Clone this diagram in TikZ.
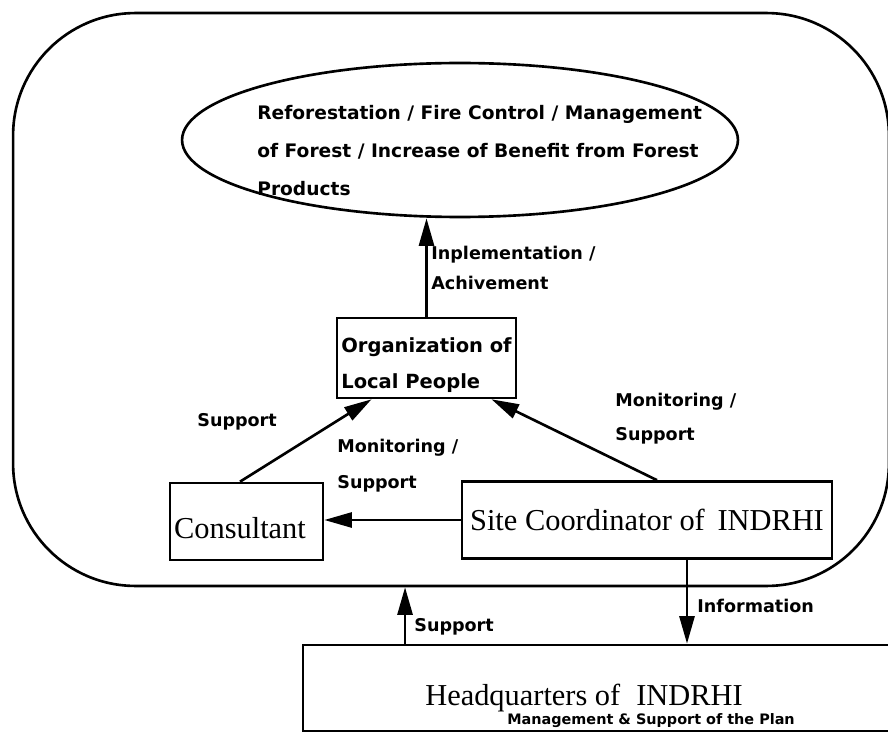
\documentclass[tikz,border=0pt]{standalone}
\usepackage{fontspec}
\setmainfont{Liberation Serif}
\newfontfamily\labfont{DejaVu Sans}
\usetikzlibrary{arrows.meta,shapes.geometric}
\tikzset{
  boxnode/.style={draw, line width=1.5pt, rectangle, inner sep=0pt},
  boxtext/.style={font=\fontsize{17.3}{20}\selectfont},
  lbl/.style={inner sep=0pt, anchor=west, align=left},
  conn/.style={line width=1.5pt, -{Triangle[length=0.55cm,width=0.3cm]}},
}
\begin{document}
\begin{tikzpicture}[x=0.02cm, y=-0.02cm]
\useasboundingbox (0,0) rectangle (888,733);
% outer region
\node (region) [draw, line width=1.5pt, rectangle, rounded corners=2.45cm,
  minimum width=17.52cm, minimum height=11.46cm, inner sep=0pt] at (451,299.5) {};
% ellipse
\node (ell) [draw, line width=1.5pt, ellipse, minimum width=11.12cm,
  minimum height=3.08cm, inner sep=0pt] at (460,140) {};
\node (elltext) [lbl, font=\labfont\bfseries\fontsize{10.6}{21.6}\selectfont]
  at (257,151) {Reforestation / Fire Control / Management\\of Forest / Increase of Benefit from Forest\\Products};
% boxes
\node (orgp) [boxnode, minimum width=3.58cm, minimum height=1.6cm] at (426.5,358) {};
\node (orgtext) [lbl, font=\labfont\bfseries\fontsize{11.1}{20.5}\selectfont]
  at (341,365) {Organization of\\Local People};
\node (cons) [boxnode, minimum width=3.06cm, minimum height=1.54cm] at (246.5,521.5) {};
\node (constext) [boxtext, inner sep=0pt] at (240,528) {Consultant};
\node (site) [boxnode, boxtext, minimum width=7.4cm, minimum height=1.54cm] at (647,520) {Site Coordinator of\, INDRHI};
\node (hq) [boxnode, minimum width=11.84cm, minimum height=1.72cm] at (599,688) {};
\node (hqtext) [lbl, boxtext] at (425,698) {Headquarters of \;INDRHI};
\node (hqsub) [lbl, font=\labfont\bfseries\fontsize{8.2}{11}\selectfont] at (507,721) {Management \& Support of the Plan};
% labels
\node (impl) [lbl, font=\labfont\bfseries\fontsize{10}{17}\selectfont] at (431,268) {Inplementation /\\Achivement};
\node (supl) [lbl, font=\labfont\bfseries\fontsize{10}{17}\selectfont] at (197,422) {Support};
\node (monm) [lbl, font=\labfont\bfseries\fontsize{10}{20.5}\selectfont] at (337,466) {Monitoring /\\Support};
\node (monr) [lbl, font=\labfont\bfseries\fontsize{10}{19.5}\selectfont] at (615,419) {Monitoring /\\Support};
\node (info) [lbl, font=\labfont\bfseries\fontsize{10}{17}\selectfont] at (697,606) {Information};
\node (supb) [lbl, font=\labfont\bfseries\fontsize{10}{17}\selectfont] at (414,627) {Support};
% connectors
\draw[conn] (orgp.north) -- (orgp.north |- ell.south);
\draw[conn] ([xshift=-0.13cm]cons.north) -- ([xshift=-1.1cm]orgp.south);
\draw[conn] ([xshift=0.2cm]site.north) -- ([xshift=1.3cm]orgp.south);
\draw[conn] (site.west) -- (site.west -| cons.east);
\draw[conn] ([xshift=0.8cm]site.south) -- ([xshift=0.8cm]site.south |- hq.north);
\draw[conn] ([xshift=-3.88cm]hq.north) -- ([xshift=-3.88cm]hq.north |- region.south);
\end{tikzpicture}
\end{document}
